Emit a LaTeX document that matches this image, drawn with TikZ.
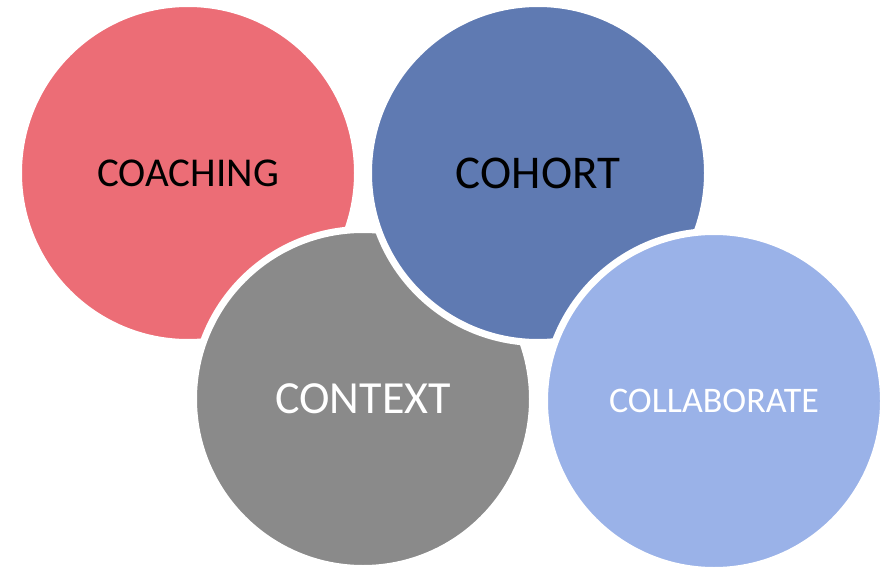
\documentclass[tikz,border=0pt]{standalone}
\usepackage{fontspec}
\setmainfont{Carlito}
\definecolor{coachred}{RGB}{236,109,118}
\definecolor{cohortblue}{RGB}{95,122,178}
\definecolor{contextgray}{RGB}{138,138,138}
\definecolor{collabblue}{RGB}{154,178,232}
\begin{document}
\begin{tikzpicture}[
        x=1pt, y=-1pt,
        every node/.style={draw=white, circle, minimum size=339pt, line width=7pt, text centered, inner sep=0pt},
        redn/.style={fill=coachred, text=black},
        darkbluen/.style={fill=cohortblue, text=black},
        grayn/.style={fill=contextgray, text=white},
        lightbluen/.style={fill=collabblue, text=white},
    ]
    \useasboundingbox (0,0) rectangle (889,567);
    \node[redn, font=\fontsize{41}{49}\selectfont] (coaching) at (188,173) {COACHING};
    \node[grayn, font=\fontsize{46}{55}\selectfont] (context) at (363,399) {CONTEXT};
    \node[darkbluen, font=\fontsize{47}{56}\selectfont] (cohort) at (538,173) {COHORT};
    \node[lightbluen, font=\fontsize{36}{43}\selectfont] (collaborate) at (714,401) {COLLABORATE};
\end{tikzpicture}
\end{document}
